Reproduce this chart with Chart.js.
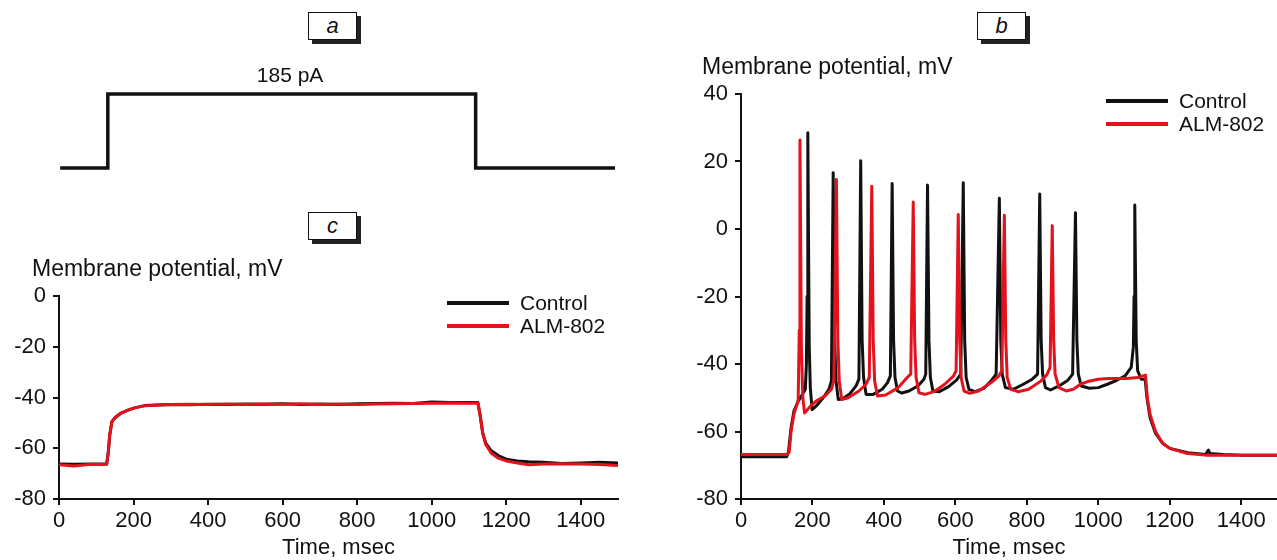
<!DOCTYPE html>
<html>
<head>
<meta charset="utf-8">
<script src="https://cdn.jsdelivr.net/npm/chart.js@4.4.1/dist/chart.umd.min.js"></script>
<style>
  body { margin: 0; background: #fff; }
  #page { position: relative; width: 1277px; height: 560px; overflow: hidden; background: #fff; }
  canvas { position: absolute; }
  .tag {
    position: absolute; width: 47px; height: 26px; border: 1px solid #111; background: #fff;
    box-shadow: 4px 4px 0 #222; font: italic 22px "Liberation Sans", Arial, sans-serif;
    text-align: center; line-height: 26px; color: #111;
  }
</style>
</head>
<body>
<div id="page">
  <div class="tag" style="left:308px; top:12px;">a</div>
  <div class="tag" style="left:977px; top:12px;">b</div>
  <div class="tag" style="left:308px; top:212px;">c</div>
  <canvas id="stim" width="640" height="140" style="left:0; top:60px;"></canvas>
  <canvas id="sub" width="640" height="310" style="left:0; top:250px;"></canvas>
  <canvas id="spikes" width="597" height="510" style="left:680px; top:50px;"></canvas>
</div>
<script>
// panel a - current step
const stimTime = [3, 131, 131, 1118, 1118, 1492];
const stimCurrent = [0, 0, 185, 185, 0, 0];

// panel b - spiking response, times in msec, potentials in mV
const spikeControlTime = [0, 128, 133, 140, 148, 160, 172, 180, 183, 185, 187, 191, 194, 199, 210, 230, 246, 253, 258, 262, 266, 272, 285, 305, 322, 330, 335, 339, 343, 350, 370, 395, 410, 418, 423, 427, 431, 438, 450, 470, 495, 512, 517, 522, 526, 530, 537, 555, 580, 603, 615, 622, 626, 630, 638, 655, 680, 700, 714, 723, 727, 731, 740, 762, 790, 815, 830, 836, 840, 844, 852, 866, 890, 915, 928, 936, 940, 944, 952, 975, 1000, 1025, 1050, 1075, 1092, 1098, 1100, 1102, 1106, 1110, 1120, 1131, 1136, 1145, 1160, 1180, 1200, 1250, 1300, 1308, 1312, 1350, 1400, 1500];
const spikeControlMv = [-67.5, -67.5, -66, -59, -54, -51, -49, -47.5, -40, -20, 28.5, -35, -47, -53.5, -52.5, -50, -47.5, -45, 16.7, -33, -45, -50.5, -50.3, -48.8, -46.5, -44.5, 20.2, -33, -44, -49, -49, -47.5, -45.5, -43.5, 13.5, -33, -44, -48, -48.6, -48, -46.5, -44.5, -43, 13, -33, -44, -48, -48.2, -46.8, -44.8, -43, 13.7, -33, -44, -47.5, -48.2, -47.2, -45, -43, 9.1, -33, -43, -47, -47.5, -46, -44.5, -43, 10.4, -33, -43, -47, -47.7, -46.5, -44.8, -43, 4.8, -33, -43, -46.5, -47.2, -47, -46, -44.9, -43.5, -41, -35, -20, 7.1, -33, -42, -44.5, -44.5, -50, -56, -60.5, -63.5, -65, -66.3, -66.8, -65.5, -66.5, -66.8, -67, -67];

const spikeDrugTime = [0, 130, 135, 140, 148, 155, 160, 163, 165, 169, 173, 178, 190, 210, 235, 253, 260, 267, 271, 275, 282, 300, 330, 350, 359, 366, 370, 374, 382, 405, 440, 465, 475, 482, 486, 490, 498, 515, 540, 570, 595, 602, 608, 612, 616, 624, 640, 665, 700, 722, 730, 737, 741, 745, 755, 775, 805, 840, 857, 865, 871, 875, 879, 890, 910, 930, 950, 970, 1000, 1030, 1080, 1110, 1132, 1137, 1145, 1160, 1180, 1200, 1250, 1300, 1400, 1500];
const spikeDrugMv = [-66.8, -66.8, -66, -60, -55, -52.5, -51, -30, 26.4, -35, -50, -54.5, -53, -51, -49.5, -47.5, -45, 14.7, -33, -45, -50.5, -50, -48, -46, -44, 12.7, -33, -45, -49.5, -49.2, -47, -44, -43, 8, -33, -44, -48.5, -49, -48.2, -46, -43.5, -42, 4.3, -33, -44, -48, -48.7, -48, -45.5, -43.5, -42, 4.1, -33, -44, -47.5, -48.2, -47.5, -45, -43, -41, 1, -33, -43, -47, -48, -47.5, -46, -45.2, -44.5, -44.3, -44.3, -44, -43.3, -50, -55, -60, -63.5, -65, -66.5, -67, -67, -67];

// panel c - subthreshold response
const subTime = [0, 40, 80, 128, 132, 136, 142, 150, 165, 185, 205, 230, 260, 300, 350, 400, 450, 500, 550, 600, 650, 700, 750, 800, 850, 900, 950, 1000, 1050, 1100, 1124, 1130, 1137, 1145, 1160, 1180, 1200, 1230, 1260, 1300, 1350, 1400, 1450, 1500];
const subControlMv = [-66.2, -66.3, -66.2, -66.2, -62, -55, -49.5, -48, -46.3, -45, -44, -43.2, -43, -42.8, -42.9, -42.7, -42.8, -42.6, -42.7, -42.5, -42.8, -42.6, -42.8, -42.5, -42.4, -42.3, -42.4, -41.8, -42, -42, -42, -47, -54, -58, -61, -63, -64.3, -65, -65.3, -65.5, -66, -65.8, -65.5, -65.8];
const subDrugMv = [-66.5, -67, -66.4, -66.3, -62, -55, -49.5, -48, -46.3, -45, -44, -43.3, -43.1, -42.8, -42.7, -42.8, -42.6, -42.8, -42.6, -42.7, -42.5, -42.8, -42.6, -42.8, -42.6, -42.5, -42.4, -42.3, -42.2, -42.3, -42.2, -47, -54, -58.5, -62, -64, -65, -65.8, -66.5, -66.2, -66.1, -66.2, -66.4, -66.8];

const seriesNames = ['Control', 'ALM-802'];
const seriesColors = ['#111111', '#e3121c'];
const timeTicks = [0, 200, 400, 600, 800, 1000, 1200, 1400];

const FONT = '"Liberation Sans", Arial, Helvetica, sans-serif';
Chart.defaults.font.family = FONT;
Chart.defaults.color = '#111';

function points(xs, ys) {
    return xs.map(function(x, i) { return { x: x, y: ys[i] }; });
}

// y title, legend and step label drawn next to the plot area
var panelText = {
    id: 'panelText',
    afterDraw: function(chart, args, opts) {
        var ctx = chart.ctx;
        var area = chart.chartArea;
        ctx.save();
        ctx.fillStyle = '#111';
        ctx.textAlign = 'left';
        ctx.textBaseline = 'middle';
        if (opts.title) {
            ctx.font = '23px ' + FONT;
            ctx.fillText(opts.title, area.left + opts.titleDx, area.top - 26);
        }
        if (opts.legend) {
            for (var i = 0; i < seriesNames.length; i++) {
                var y = area.top + 7 + i * 23;
                var x0 = area.right - 171;
                ctx.strokeStyle = seriesColors[i];
                ctx.lineWidth = 4;
                ctx.beginPath();
                ctx.moveTo(x0, y);
                ctx.lineTo(x0 + 62, y);
                ctx.stroke();
                ctx.font = '21px ' + FONT;
                ctx.fillText(seriesNames[i], x0 + 73, y + 1);
            }
        }
        if (opts.stepLabel) {
            ctx.font = '21px ' + FONT;
            ctx.textAlign = 'center';
            ctx.fillText(opts.stepLabel, chart.scales.x.getPixelForValue(620), area.top - 18);
        }
        ctx.restore();
    }
};

function plainNumber(v) { return String(v); }

function timeAxis() {
    return {
        type: 'linear', min: 0, max: 1500,
        afterBuildTicks: function(scale) {
            scale.ticks = timeTicks.map(function(v) { return { value: v }; });
        },
        afterFit: function(scale) { scale.height = 61; },
        ticks: { font: { size: 22 }, padding: 3, maxRotation: 0, callback: plainNumber },
        grid: { drawOnChartArea: false, tickLength: 6, lineWidth: 2, color: '#111' },
        border: { display: true, width: 2, color: '#111' },
        title: { display: true, text: 'Time, msec', font: { size: 22, lineHeight: 1.1 }, padding: { top: 0, bottom: 0 } }
    };
}

function mvAxis(min, max, width) {
    return {
        type: 'linear', min: min, max: max,
        ticks: { stepSize: 20, font: { size: 22 }, padding: 7, callback: plainNumber },
        afterFit: function(scale) { scale.width = width; },
        grid: { drawOnChartArea: false, tickLength: 6, lineWidth: 2, color: '#111' },
        border: { display: true, width: 2, color: '#111' }
    };
}

// round joins so the narrow spikes do not grow miter points
function traces(ctrlT, ctrlV, drugT, drugV) {
    return [
        { label: seriesNames[0], data: points(ctrlT, ctrlV), borderColor: seriesColors[0], borderWidth: 3, borderJoinStyle: 'round', pointRadius: 0, order: 2 },
        { label: seriesNames[1], data: points(drugT, drugV), borderColor: seriesColors[1], borderWidth: 3, borderJoinStyle: 'round', pointRadius: 0, order: 1 }
    ];
}

var common = { responsive: false, animation: false, devicePixelRatio: 1, events: [] };

new Chart(document.getElementById('stim'), {
    type: 'line',
    data: { datasets: [{ data: points(stimTime, stimCurrent), borderColor: '#111', borderWidth: 3.5, pointRadius: 0, clip: false, borderJoinStyle: 'miter' }] },
    options: Object.assign({}, common, {
        layout: { padding: { left: 59, right: 22, top: 34, bottom: 32 } },
        scales: {
            x: { type: 'linear', min: 0, max: 1500, display: false },
            y: { min: 0, max: 185, display: false }
        },
        plugins: { legend: { display: false }, tooltip: { enabled: false }, panelText: { stepLabel: '185 pA' } }
    }),
    plugins: [panelText]
});

new Chart(document.getElementById('sub'), {
    type: 'line',
    data: { datasets: traces(subTime, subControlMv, subTime, subDrugMv) },
    options: Object.assign({}, common, {
        layout: { padding: { left: 0, right: 22, top: 46, bottom: 0 } },
        scales: { x: timeAxis(), y: mvAxis(-80, 0, 59) },
        plugins: { legend: { display: false }, tooltip: { enabled: false }, panelText: { title: 'Membrane potential, mV', titleDx: -27, legend: true } }
    }),
    plugins: [panelText]
});

new Chart(document.getElementById('spikes'), {
    type: 'line',
    data: { datasets: traces(spikeControlTime, spikeControlMv, spikeDrugTime, spikeDrugMv) },
    options: Object.assign({}, common, {
        layout: { padding: { left: 0, right: 0, top: 44, bottom: 0 } },
        scales: { x: timeAxis(), y: mvAxis(-80, 40, 61) },
        plugins: { legend: { display: false }, tooltip: { enabled: false }, panelText: { title: 'Membrane potential, mV', titleDx: -39, legend: true } }
    }),
    plugins: [panelText]
});
</script>
</body>
</html>
